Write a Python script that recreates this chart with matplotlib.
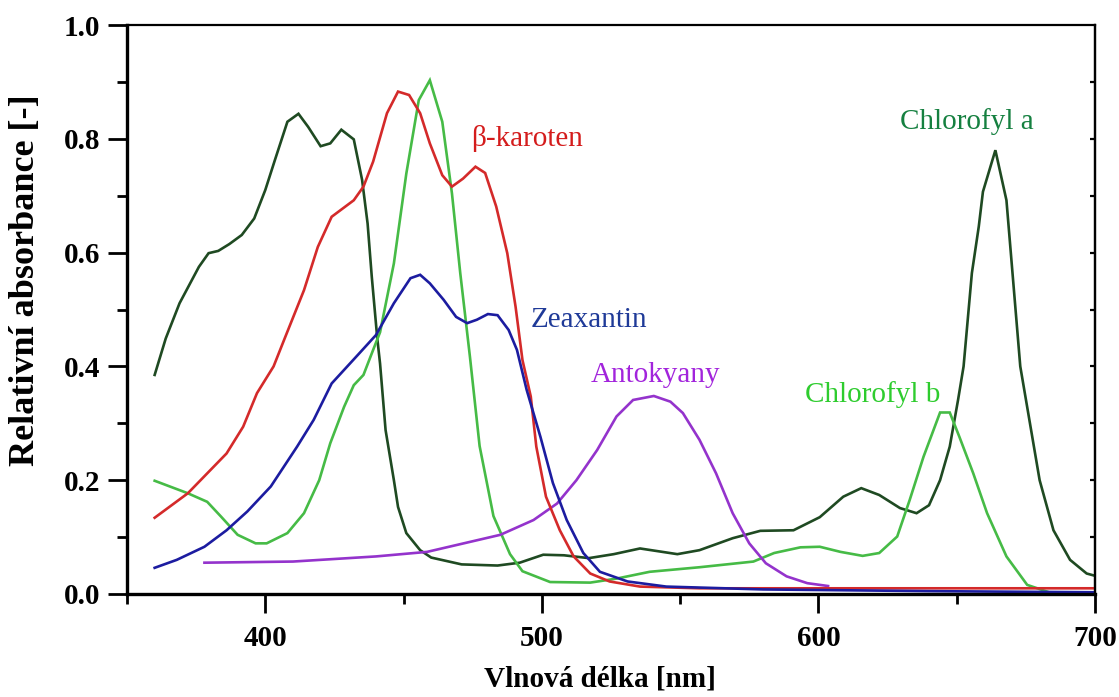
import numpy as np
import matplotlib
matplotlib.use("Agg")
import matplotlib.pyplot as plt

plt.rcParams['font.family'] = ['Liberation Serif', 'DejaVu Serif']

# chlorofyl a
chla_nm = [360, 364, 369, 376, 379.5, 383, 387, 391.5, 396, 400, 403.5, 408, 412, 415.5, 420, 423.5,
           427.5, 432, 435, 437, 438.5, 440.5, 441.5, 443.5, 446.5, 448, 451, 456, 460, 471, 484, 492,
           500.5, 508, 517, 526, 535.5, 549, 557, 569, 579, 591, 600.5, 609, 615.5, 622, 629.5, 635.5,
           640, 644, 647.5, 650.5, 652.5, 655.5, 658, 659.5, 664, 668, 673, 676.5, 680, 685, 691, 697, 700]
chla_abs = [0.385, 0.449, 0.511, 0.575, 0.599, 0.603, 0.615, 0.631, 0.660, 0.710, 0.763, 0.830, 0.844,
            0.821, 0.787, 0.792, 0.816, 0.799, 0.728, 0.651, 0.558, 0.449, 0.405, 0.288, 0.200, 0.153,
            0.107, 0.077, 0.064, 0.052, 0.050, 0.055, 0.069, 0.068, 0.063, 0.070, 0.080, 0.070, 0.077,
            0.098, 0.111, 0.112, 0.135, 0.171, 0.186, 0.174, 0.151, 0.142, 0.156, 0.200, 0.259, 0.341,
            0.400, 0.564, 0.646, 0.707, 0.780, 0.692, 0.400, 0.300, 0.200, 0.112, 0.060, 0.036, 0.032]

# beta-karoten
bkar_nm = [360, 372, 379, 386, 392, 397, 403, 407, 414, 419, 424, 432, 435.5, 439, 444, 448, 452, 456,
           459.5, 464, 467.5, 471.5, 476, 479.5, 483.5, 487.5, 490.5, 493, 496, 498, 501.5, 506.5, 511.5,
           517.5, 524.5, 535.5, 557, 600, 650, 700]
bkar_abs = [0.134, 0.177, 0.212, 0.247, 0.294, 0.353, 0.400, 0.449, 0.534, 0.610, 0.663, 0.692, 0.716,
            0.760, 0.845, 0.883, 0.877, 0.845, 0.792, 0.736, 0.716, 0.730, 0.751, 0.740, 0.681, 0.599,
            0.505, 0.411, 0.347, 0.259, 0.171, 0.112, 0.066, 0.036, 0.022, 0.013, 0.010, 0.010, 0.010, 0.010]

# zeaxantin
zea_nm = [360, 368, 378, 386, 393.5, 402, 411.5, 417.5, 424, 434, 440, 446.5, 452.5, 456, 459.5, 464.5,
          469, 473, 476.5, 480.5, 484, 488, 491, 494.5, 499.5, 504, 509, 515, 521, 531, 545, 580, 640, 700]
zea_abs = [0.046, 0.060, 0.083, 0.112, 0.145, 0.189, 0.259, 0.306, 0.370, 0.423, 0.455, 0.511, 0.555,
           0.561, 0.546, 0.517, 0.487, 0.476, 0.482, 0.492, 0.490, 0.464, 0.429, 0.359, 0.276, 0.195,
           0.130, 0.072, 0.039, 0.022, 0.013, 0.008, 0.005, 0.003]

# chlorofyl b
chlb_nm = [360, 372, 379, 384, 390, 396.5, 400.5, 408, 414, 419.5, 423.5, 428.5, 432, 435.5, 439, 441.5,
           446.5, 451, 455.5, 459.5, 464, 467.5, 470.5, 474, 477.5, 482.5, 488.5, 493, 503, 517.5, 527,
           539, 557, 576.5, 584, 593.5, 600.5, 608, 616, 622, 628.5, 633, 638, 644, 647.5, 651, 656, 661,
           668, 675.5, 684, 700]
chlb_abs = [0.199, 0.177, 0.162, 0.136, 0.104, 0.089, 0.089, 0.107, 0.142, 0.200, 0.265, 0.329, 0.367,
            0.385, 0.429, 0.460, 0.581, 0.739, 0.868, 0.903, 0.830, 0.704, 0.564, 0.417, 0.260, 0.137,
            0.070, 0.040, 0.021, 0.020, 0.027, 0.039, 0.047, 0.057, 0.072, 0.082, 0.083, 0.074, 0.067,
            0.072, 0.101, 0.165, 0.241, 0.319, 0.319, 0.276, 0.212, 0.142, 0.066, 0.016, 0.002, -0.004]

# antokyany
anto_nm = [378, 410, 440, 458.5, 485, 497, 505.5, 512.5, 520, 527, 533, 540.5, 546.5, 551, 557, 563,
           569, 575, 581, 588.5, 596, 603.5]
anto_abs = [0.055, 0.057, 0.066, 0.074, 0.104, 0.130, 0.159, 0.200, 0.253, 0.312, 0.341, 0.348, 0.338,
            0.318, 0.271, 0.212, 0.142, 0.089, 0.054, 0.031, 0.019, 0.014]

series = [
    (chla_nm, chla_abs, "#1f4a22"),
    (chlb_nm, chlb_abs, "#46bb46"),
    (anto_nm, anto_abs, "#9433cc"),
    (bkar_nm, bkar_abs, "#d42a2a"),
    (zea_nm, zea_abs, "#1c1ca0"),
]

labels = ["Chlorofyl a", "Chlorofyl b", "Antokyany", "β-karoten", "Zeaxantin"]
label_x = [629.5, 595, 517.5, 474.5, 496]
label_y = [0.830, 0.350, 0.385, 0.801, 0.482]
label_col = ["#158040", "#2ecc2e", "#a224dc", "#d41c1c", "#1f3a98"]

fig = plt.figure(figsize=(11.19, 6.97), dpi=100)
ax = fig.add_axes([0.1135, 0.1478, 0.865, 0.8163])

for nm, a, c in series:
    ax.plot(nm, a, color=c, lw=1.9, solid_joinstyle='miter')

for t, x, y, c in zip(labels, label_x, label_y, label_col):
    ax.text(x, y, t, color=c, fontsize=21, ha='left', va='center')

ax.set_xlim(350, 700)
ax.set_ylim(0, 1.0)
ax.set_xticks([400, 500, 600, 700])
ax.set_xticks([350, 450, 550, 650], minor=True)
ax.set_yticks([0.0, 0.2, 0.4, 0.6, 0.8, 1.0])
ax.set_yticks([0.1, 0.3, 0.5, 0.7, 0.9], minor=True)
ax.set_yticklabels(["0.0", "0.2", "0.4", "0.6", "0.8", "1.0"])
ax.tick_params(which='major', length=13.5, width=2, labelsize=21, pad=6)
ax.tick_params(which='minor', length=7, width=2)
ax.tick_params(axis='x', which='major', pad=9)
for lab in ax.get_xticklabels() + ax.get_yticklabels():
    lab.set_fontweight('bold')

for s in ['left', 'bottom']:
    ax.spines[s].set_linewidth(2.4)
for s in ['top', 'right']:
    ax.spines[s].set_linewidth(1.6)

sec = ax.secondary_yaxis('right')
sec.set_yticks(np.arange(0.1, 1.0, 0.1))
sec.tick_params(direction='in', length=3.5, width=1.6, labelright=False)
sec.spines['right'].set_linewidth(1.6)

ax.set_xlabel("Vlnová délka [nm]", fontsize=21, fontweight='bold')
ax.set_ylabel("Relativní absorbance [-]", fontsize=26, fontweight='bold')
ax.xaxis.set_label_coords(0.489, -0.126)
ax.yaxis.set_label_coords(-0.088, 0.552)

plt.savefig("out.png", dpi=100)
